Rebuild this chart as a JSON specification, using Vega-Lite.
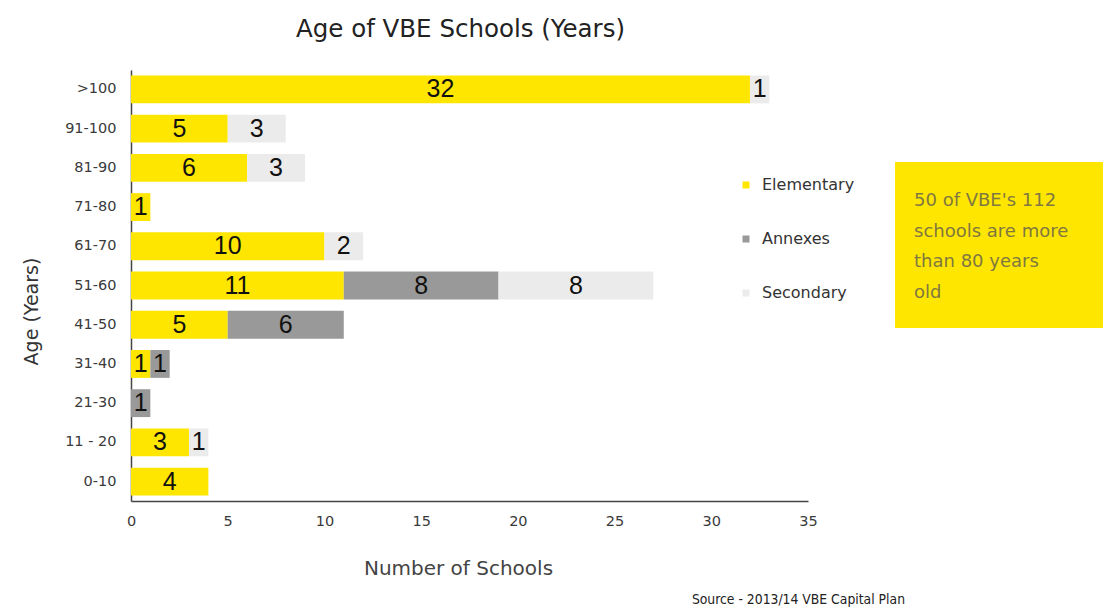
{
  "$schema": "https://vega.github.io/schema/vega-lite/v6.json",
  "background": "white",
  "padding": {"left": 22, "top": 16, "right": 5, "bottom": 2},
  "autosize": {"type": "pad"},
  "config": {"view": {"stroke": null}, "font": "DejaVu Sans"},
  "spacing": 40,
  "title": {"text": "Source - 2013/14 VBE Capital Plan", "orient": "bottom", "anchor": "end", "font": "DejaVu Sans Condensed, Liberation Sans, sans-serif", "fontSize": 13.8, "fontWeight": "normal", "color": "#222", "dx": -198, "offset": 14},
  "resolve": {"scale": {"color": "independent"}},
  "hconcat": [
    {
      "width": 677,
      "height": 431,
      "title": {"text": "Age of VBE Schools (Years)", "font": "DejaVu Sans", "fontSize": 24.5, "fontWeight": "normal", "color": "#222", "anchor": "middle", "dx": -9, "offset": 28},
      "data": {"values": [
        {"age": ">100", "type": "Elementary", "ord": 1, "count": 32},
        {"age": ">100", "type": "Secondary", "ord": 3, "count": 1},
        {"age": "91-100", "type": "Elementary", "ord": 1, "count": 5},
        {"age": "91-100", "type": "Secondary", "ord": 3, "count": 3},
        {"age": "81-90", "type": "Elementary", "ord": 1, "count": 6},
        {"age": "81-90", "type": "Secondary", "ord": 3, "count": 3},
        {"age": "71-80", "type": "Elementary", "ord": 1, "count": 1},
        {"age": "61-70", "type": "Elementary", "ord": 1, "count": 10},
        {"age": "61-70", "type": "Secondary", "ord": 3, "count": 2},
        {"age": "51-60", "type": "Elementary", "ord": 1, "count": 11},
        {"age": "51-60", "type": "Annexes", "ord": 2, "count": 8},
        {"age": "51-60", "type": "Secondary", "ord": 3, "count": 8},
        {"age": "41-50", "type": "Elementary", "ord": 1, "count": 5},
        {"age": "41-50", "type": "Annexes", "ord": 2, "count": 6},
        {"age": "31-40", "type": "Elementary", "ord": 1, "count": 1},
        {"age": "31-40", "type": "Annexes", "ord": 2, "count": 1},
        {"age": "21-30", "type": "Annexes", "ord": 2, "count": 1},
        {"age": "11 - 20", "type": "Elementary", "ord": 1, "count": 3},
        {"age": "11 - 20", "type": "Secondary", "ord": 3, "count": 1},
        {"age": "0-10", "type": "Elementary", "ord": 1, "count": 4}
      ]},
      "transform": [
        {"stack": "count", "groupby": ["age"], "sort": [{"field": "ord", "order": "ascending"}], "as": ["x0", "x1"]},
        {"calculate": "(datum.x0 + datum.x1) / 2", "as": "xm"}
      ],
      "encoding": {
        "y": {
          "field": "age",
          "type": "nominal",
          "sort": [">100", "91-100", "81-90", "71-80", "61-70", "51-60", "41-50", "31-40", "21-30", "11 - 20", "0-10"],
          "scale": {"paddingInner": 0.29, "paddingOuter": 0.14},
          "axis": {
            "title": "Age (Years)",
            "titleFont": "DejaVu Sans",
            "titleFontSize": 19,
            "titleFontWeight": "normal",
            "titleColor": "#333",
            "titlePadding": 23,
            "titleY": 241,
            "labelFont": "DejaVu Sans",
            "labelFontSize": 14.5,
            "labelColor": "#3a3a3a",
            "labelPadding": 15,
            "ticks": false,
            "domainColor": "#444",
            "domainWidth": 1.5,
            "grid": false
          }
        }
      },
      "layer": [
        {
          "mark": {"type": "bar"},
          "encoding": {
            "x": {
              "field": "x0",
              "type": "quantitative",
              "scale": {"domain": [0, 35], "nice": false},
              "axis": {
                "title": "Number of Schools",
                "values": [0, 5, 10, 15, 20, 25, 30, 35],
                "titleFont": "DejaVu Sans",
                "titleFontSize": 20,
                "titleFontWeight": "normal",
                "titleColor": "#444",
                "titlePadding": 31,
                "titleX": 327,
                "labelFont": "DejaVu Sans",
                "labelFontSize": 14.5,
                "labelColor": "#3a3a3a",
                "labelPadding": 13,
                "labelFlush": false,
                "ticks": false,
                "domainColor": "#444",
                "domainWidth": 1.5,
                "grid": false
              }
            },
            "x2": {"field": "x1"},
            "color": {
              "field": "type",
              "type": "nominal",
              "scale": {"domain": ["Elementary", "Annexes", "Secondary"], "range": ["#ffe600", "#999999", "#ebebeb"]},
              "legend": {
                "title": null,
                "orient": "none",
                "legendX": 607,
                "legendY": 107,
                "symbolType": "square",
                "symbolSize": 49,
                "symbolStrokeWidth": 0,
                "symbolOpacity": 1,
                "labelFont": "DejaVu Sans",
                "labelFontSize": 16,
                "labelColor": "#333",
                "labelOffset": 8,
                "rowPadding": 38
              }
            }
          }
        },
        {
          "mark": {"type": "text", "font": "Liberation Sans", "fontSize": 25, "color": "#111", "baseline": "middle", "align": "center"},
          "encoding": {
            "x": {"field": "xm", "type": "quantitative"},
            "text": {"field": "count", "type": "quantitative"}
          }
        }
      ]
    },
    {
      "spacing": 20,
      "vconcat": [
        {
          "width": 208,
          "height": 72,
          "data": {"values": [{"text": ""}]},
          "mark": {"type": "text"},
          "encoding": {"text": {"field": "text"}}
        },
        {
          "width": 208,
          "height": 166,
          "view": {"fill": "#ffe600", "stroke": null},
          "data": {"values": [
            {"line": 1, "text": "50 of VBE's 112"},
            {"line": 2, "text": "schools are more"},
            {"line": 3, "text": "than 80 years"},
            {"line": 4, "text": "old"}
          ]},
          "mark": {"type": "text", "align": "left", "baseline": "middle", "font": "DejaVu Sans", "fontSize": 18, "color": "#807840", "x": 19},
          "encoding": {
            "y": {"field": "line", "type": "quantitative", "axis": null, "scale": {"domain": [-0.27, 5.14], "reverse": true, "nice": false, "zero": false}},
            "text": {"field": "text"}
          }
        }
      ]
    }
  ]
}
